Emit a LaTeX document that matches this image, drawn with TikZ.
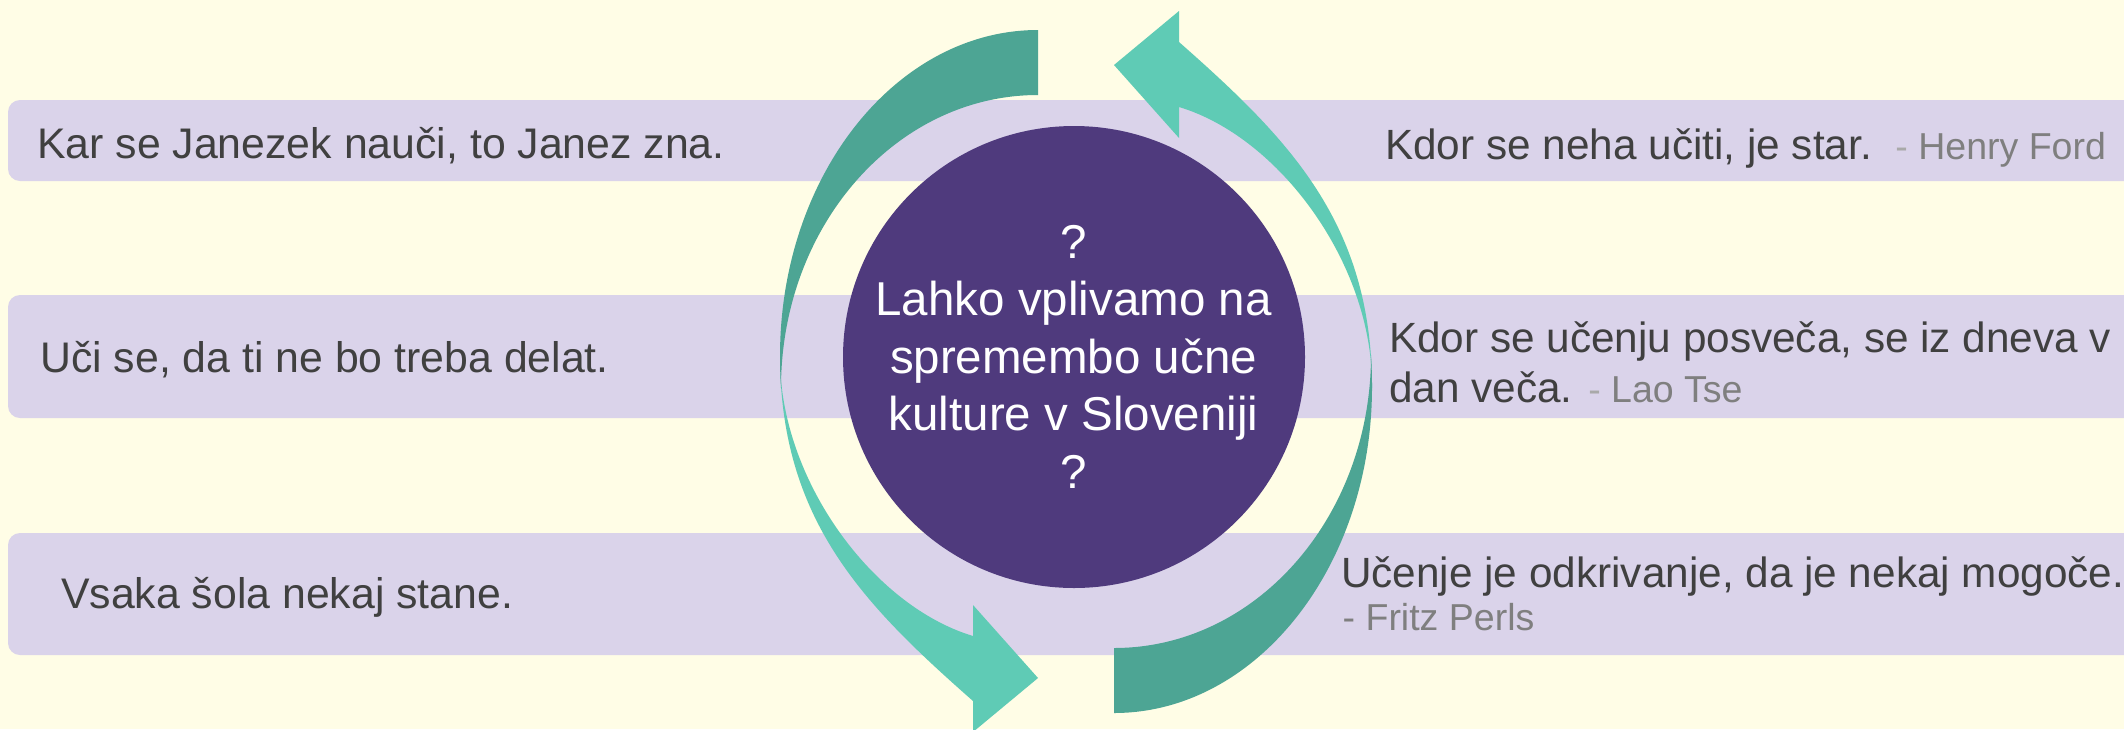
\documentclass[tikz,border=0pt]{standalone}
\usepackage{fontspec}
\setmainfont{Liberation Sans}
\definecolor{bgc}{HTML}{FFFDE6}
\definecolor{barc}{HTML}{DAD3EA}
\definecolor{hubc}{HTML}{4F3A7D}
\definecolor{tealdark}{HTML}{4DA594}
\definecolor{teallight}{HTML}{5FCBB5}
\definecolor{txtc}{HTML}{404040}
\definecolor{authc}{HTML}{7F7F7F}
\definecolor{dashc}{HTML}{A9A9A9}
\newcommand\authfont{\fontsize{37.5}{45}\selectfont}
% one half of the cycle: tail piece (dark) and head piece (light)
\newcommand\cyclehalf{%
  \fill[teallight] (780,355) .. controls (780,520) and (863,604) .. (973,701)
    -- (973,732) -- (1038,678) -- (973,605) -- (973,636)
    .. controls (873,606) and (780,480) .. (780,358) -- cycle;
  \fill[tealdark] (1038,30) .. controls (896,30) and (780,176) .. (780,356)
    .. controls (780,370) and (780.5,380) .. (781,388)
    .. controls (781,226) and (896,95) .. (1038,95) -- cycle;
}
\begin{document}
\begin{tikzpicture}[x=1pt,y=-1pt,
  barbox/.style={fill=barc, rounded corners=12pt},
  quote/.style={anchor=base west, inner sep=0pt, text=txtc,
                font=\fontsize{42.8}{50}\selectfont},
  rquote/.style={quote, font=\fontsize{42.3}{50}\selectfont},
  authline/.style={anchor=base west, inner sep=0pt, text=authc, font=\authfont},
  hubtext/.style={align=center, inner sep=0pt, text=white,
                  font=\fontsize{47.5}{57.5}\selectfont}]
\useasboundingbox (0,0) rectangle (2124,729);
\clip (0,0) rectangle (2124,729);
\fill[bgc] (0,0) rectangle (2124,729);
% bars
\fill[barbox] (8,100) rectangle (2160,181);
\fill[barbox] (8,295) rectangle (2160,418);
\fill[barbox] (8,533) rectangle (2160,655);
% hub
\node[circle, fill=hubc, minimum size=462pt, inner sep=0pt] (hub) at (1074,357) {};
% arrows
\cyclehalf
\begin{scope}[rotate around={180:(1076,371.5)}]
\cyclehalf
\end{scope}
\node[hubtext] (hubt) at (1073.5,356.8) {?\\Lahko vplivamo na\\spremembo učne\\kulture v Sloveniji\\?};
% left quotes
\node[quote] (l1) at (37,158.5) {Kar se Janezek nauči, to Janez zna.};
\node[quote] (l2) at (40,372) {Uči se, da ti ne bo treba delat.};
\node[quote] (l3) at (61,608.5) {Vsaka šola nekaj stane.};
% right quotes
\node[rquote] (r1) at (1385,159) {Kdor se neha učiti, je star.\ \ {\authfont\textcolor{dashc}{-} \textcolor{authc}{Henry Ford}}};
\node[rquote] (r2a) at (1389,352) {Kdor se učenju posveča, se iz dneva v};
\node[rquote] (r2b) at (1389,402) {dan veča. {\authfont\textcolor{dashc}{-} \textcolor{authc}{Lao Tse}}};
\node[rquote] (r3a) at (1341,587.5) {Učenje je odkrivanje, da je nekaj mogoče.};
\node[authline] (r3b) at (1342.5,630) {- Fritz Perls};
\end{tikzpicture}
\end{document}
